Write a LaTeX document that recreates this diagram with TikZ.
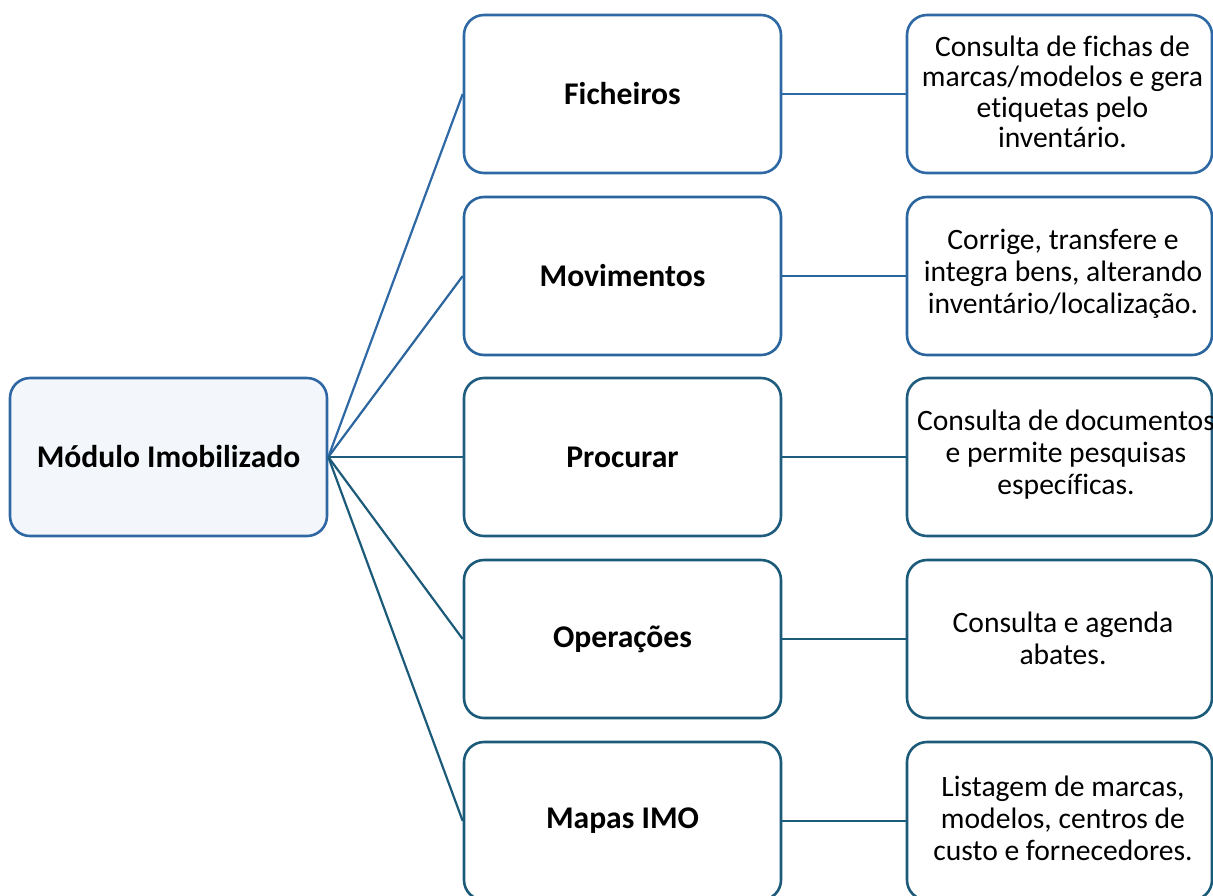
\documentclass[tikz,border=0pt]{standalone}
\usepackage{fontspec}
\setmainfont[Ligatures=CommonOff]{Carlito}
\begin{document}
\begin{tikzpicture}[x=1pt,y=-1pt,
  every node/.style={font=\fontsize{29.6}{32}\selectfont, align=center, inner sep=0pt},
  tight/.style={font=\fontsize{29.6}{30.4}\selectfont},
  box/.style={draw, line width=2.6pt, rounded corners=20pt, fill=white},
  headfont/.style={font=\fontsize{31.6}{32}\selectfont\bfseries},
  rootbox/.style={box, draw=rootc, fill=rootfill, minimum width=317pt, minimum height=158pt, headfont},
  midbox/.style={box, minimum width=317pt, minimum height=158pt, headfont},
  descbox/.style={box, minimum width=305pt, minimum height=158pt},
  link/.style={line width=2.2pt}
]
\definecolor{rootc}{HTML}{2E67A3}
\definecolor{rootfill}{HTML}{F3F7FC}
\definecolor{rowa}{HTML}{2E68A5}
\definecolor{rowb}{HTML}{2B659E}
\definecolor{rowc}{HTML}{1F5C7E}
\definecolor{rowd}{HTML}{1C5A7A}
\definecolor{rowe}{HTML}{1C5A7A}

\useasboundingbox (0,0) rectangle (1213,895);
\clip (0,0) rectangle (1213,895);

% root
\node[rootbox] (root) at (168.5,457) {Módulo Imobilizado};

% second level
\node[midbox, draw=rowa] (fich) at (622.5,94)  {Ficheiros};
\node[midbox, draw=rowb] (movi) at (622.5,276) {Movimentos};
\node[midbox, draw=rowc] (proc) at (622.5,457) {Procurar};
\node[midbox, draw=rowd] (oper) at (622.5,639) {Operações};
\node[midbox, draw=rowe] (mapa) at (622.5,821) {Mapas IMO};

% descriptions
\node[descbox, draw=rowa] (dfich) at (1059.5,94)  {};
\node[descbox, draw=rowb] (dmovi) at (1059.5,276) {};
\node[descbox, draw=rowc] (dproc) at (1059.5,457) {};
\node[descbox, draw=rowd] (doper) at (1059.5,639) {};
\node[descbox, draw=rowe] (dmapa) at (1059.5,821) {};

\node[tight] (tfich) at (1062.5,92)  {Consulta de fichas de\\marcas/modelos e gera\\etiquetas pelo\\inventário.};
\node (tmovi) at (1063,274) {Corrige, transfere e\\integra bens, alterando\\inventário/localização.};
\node (tproc) at (1066,455) {Consulta de documentos\\e permite pesquisas\\específicas.};
\node (toper) at (1063,638) {Consulta e agenda\\abates.};
\node (tmapa) at (1063,818) {Listagem de marcas,\\modelos, centros de\\custo e fornecedores.};

% connectors
\draw[link, rowa] (root.east) -- (fich.west);
\draw[link, rowb] (root.east) -- (movi.west);
\draw[link, rowc] (root.east) -- (proc.west);
\draw[link, rowd] (root.east) -- (oper.west);
\draw[link, rowe] (root.east) -- (mapa.west);
\draw[link, rowa] (fich.east) -- (dfich.west);
\draw[link, rowb] (movi.east) -- (dmovi.west);
\draw[link, rowc] (proc.east) -- (dproc.west);
\draw[link, rowd] (oper.east) -- (doper.west);
\draw[link, rowe] (mapa.east) -- (dmapa.west);
\end{tikzpicture}
\end{document}
